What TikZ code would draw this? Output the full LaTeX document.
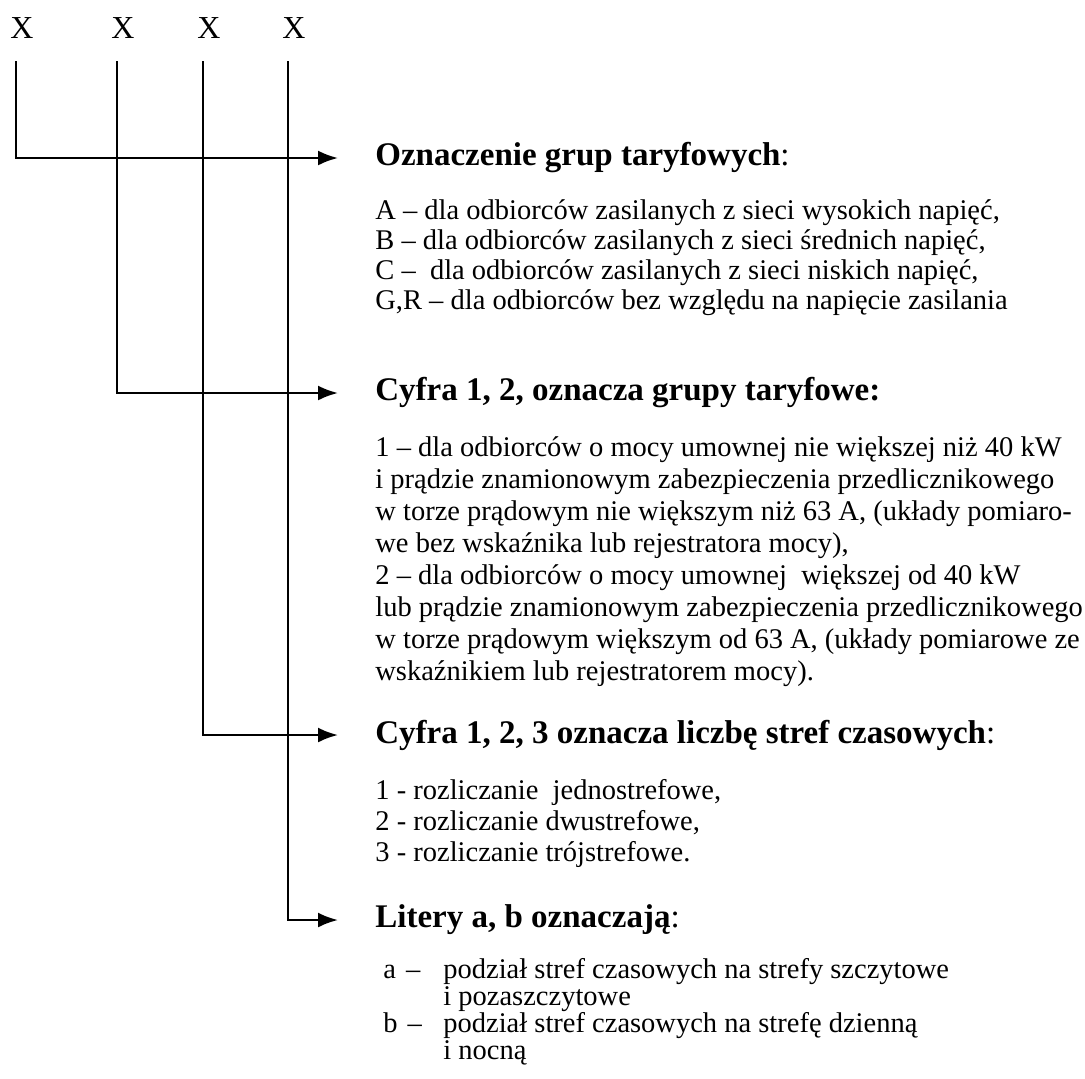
\documentclass[tikz,border=0pt]{standalone}
\usepackage{fontspec}
\setmainfont{Liberation Serif}
\usetikzlibrary{arrows.meta}

\begin{document}
\begin{tikzpicture}[x=0.5pt, y=-0.5pt, >={Latex[length=10pt,width=7.5pt]},
  letter/.style={inner sep=0pt, font=\fontsize{16}{19}\selectfont},
  head/.style={anchor=west, inner sep=0pt, font=\fontsize{16.5}{20}\selectfont\bfseries},
  body/.style={anchor=north west, inner sep=0pt, align=left},
  link/.style={->, line width=1.2pt, shorten >=18.5pt}]
  \useasboundingbox (0,0) rectangle (1085,1078);

  % Define letters
  \node [letter] (x1) at (22,28) {X};
  \node [letter] (x2) at (123,28) {X};
  \node [letter] (x3) at (209,28) {X};
  \node [letter] (x4) at (294,28) {X};

  % Define headings
  \node [head] (h1) at (375,158) {Oznaczenie grup taryfowych\textmd{:}};
  \node [head] (h2) at (375,393) {Cyfra 1, 2, oznacza grupy taryfowe:};
  \node [head] (h3) at (375,735) {Cyfra 1, 2, 3 oznacza liczbę stref czasowych\textmd{:}};
  \node [head] (h4) at (375,920) {Litery a, b oznaczają\textmd{:}};

  % Define descriptions
  \node [body, font=\fontsize{14.25}{15}\selectfont] (d1) at (375,198.5) {\strut A – dla odbiorców zasilanych z sieci wysokich napięć,\\
    B – dla odbiorców zasilanych z sieci średnich napięć,\\
    C –\ \ dla odbiorców zasilanych z sieci niskich napięć,\\
    G,R – dla odbiorców bez względu na napięcie zasilania};
  \node [body, font=\fontsize{14.25}{16}\selectfont] (d2) at (375,434) {\strut 1 – dla odbiorców o mocy umownej nie większej niż 40 kW\\
    i prądzie znamionowym zabezpieczenia przedlicznikowego\\
    w torze prądowym nie większym niż 63 A, (układy pomiaro-\\
    we bez wskaźnika lub rejestratora mocy),\\
    2 – dla odbiorców o mocy umownej\ \ większej od 40 kW\\
    lub prądzie znamionowym zabezpieczenia przedlicznikowego\\
    w torze prądowym większym od 63 A, (układy pomiarowe ze\\
    wskaźnikiem lub rejestratorem mocy).};
  \node [body, font=\fontsize{14.25}{15.5}\selectfont] (d3) at (375,777) {\strut 1 - rozliczanie\ \ jednostrefowe,\\
    2 - rozliczanie dwustrefowe,\\
    3 - rozliczanie trójstrefowe.};
  \node [body, font=\fontsize{14.25}{13.5}\selectfont] (d4) at (383,958) {\strut\makebox[30pt][l]{a\hspace{5pt}–}podział stref czasowych na strefy szczytowe\\
    \hspace*{30pt}i pozaszczytowe\\
    \makebox[30pt][l]{b\hspace{5pt}–}podział stref czasowych na strefę dzienną\\
    \hspace*{30pt}i nocną};

  % Connect letters with right arrows
  \draw [link] ([xshift=-3pt,yshift=-11.25pt]x1.south) |- (h1.west);
  \draw [link] ([xshift=-3pt,yshift=-11.25pt]x2.south) |- (h2.west);
  \draw [link] ([xshift=-3pt,yshift=-11.25pt]x3.south) |- (h3.west);
  \draw [link] ([xshift=-3pt,yshift=-11.25pt]x4.south) |- (h4.west);
\end{tikzpicture}
\end{document}
